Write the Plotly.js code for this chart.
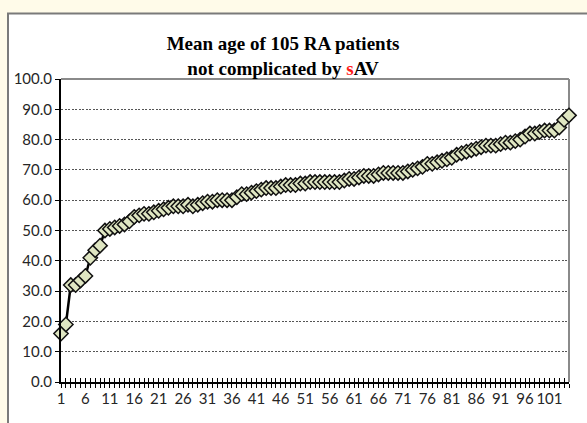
<!DOCTYPE html>
<html>
<head>
<meta charset="utf-8">
<script src="https://cdn.plot.ly/plotly-3.0.1.min.js"></script>
<style>
html,body{margin:0;padding:0;background:#fffbe9;}
#chart{width:587px;height:423px;}
</style>
</head>
<body>
<div id="chart"></div>
<script>
// Patient index (1..105)
const patientIndex = Array.from({length: 105}, (_, i) => i + 1);
// Ages, sorted ascending
const ages = [
  16, 19, 32, 32, 33.5, 35, 41, 43.5, 45, 50,
  50.5, 51, 51.5, 52, 53, 54.5, 55, 55.5, 55.5, 56,
  56.5, 57, 57.5, 58, 58, 58, 58.5, 58, 58.5, 59,
  59.5, 59.5, 60, 60, 60, 60, 61, 62, 62, 62.5,
  63, 63.5, 64, 64, 64, 64.5, 65, 65, 65, 65.5,
  65.5, 66, 66, 66, 66, 66, 66, 66, 66.5, 67,
  67, 67.5, 68, 68, 68, 68.5, 69, 69, 69, 69,
  69, 69.5, 70, 70.5, 71, 72, 72, 72.5, 73, 73.5,
  74, 75, 75.5, 76, 76.5, 77, 77.5, 78, 78, 78,
  78.5, 79, 79, 79.5, 80, 81, 82, 82, 82.5, 83,
  83, 83, 84, 86.5, 88
];
const xTickVals = [1, 6, 11, 16, 21, 26, 31, 36, 41, 46, 51, 56, 61, 66, 71, 76, 81, 86, 91, 96, 101];
const yTickVals = [0, 10, 20, 30, 40, 50, 60, 70, 80, 90, 100];

const trace = {
  x: patientIndex,
  y: ages,
  type: 'scatter',
  mode: 'lines+markers',
  line: {color: '#000000', width: 2.5},
  marker: {symbol: 'diamond', size: 11, color: '#dfe6c2', line: {color: '#111111', width: 1.5}},
  cliponaxis: false,
  hoverinfo: 'skip'
};

const tickFont = {family: 'Lato, "Noto Sans", sans-serif', size: 15, color: '#262626'};

const layout = {
  width: 587, height: 423,
  margin: {l: 61, r: 18, t: 79, b: 41},
  paper_bgcolor: '#fffbe9',
  plot_bgcolor: '#ffffff',
  showlegend: false,
  title: {
    text: 'Mean age of 105 RA patients<br>not complicated by <span style="color:#ff1a1a">s</span>AV',
    font: {family: '"Liberation Serif", "Times New Roman", serif', size: 19, color: '#000', weight: 'bold'},
    x: 283 / 587, xanchor: 'center', xref: 'container',
    y: 1 - 50 / 423, yanchor: 'top', yref: 'container'
  },
  xaxis: {
    range: [1, 105],
    tickmode: 'array', tickvals: xTickVals, ticktext: xTickVals.map(String),
    ticks: 'outside', ticklen: 4, tickwidth: 1, tickcolor: '#000',
    minor: {dtick: 1, tick0: 1, ticks: 'outside', ticklen: 4, tickwidth: 1, tickcolor: '#000', showgrid: false},
    showline: true, linecolor: '#000', linewidth: 2,
    showgrid: false, zeroline: false,
    tickfont: tickFont, ticklabelstandoff: -2,
    fixedrange: true
  },
  xaxis2: {
    overlaying: 'x', anchor: 'y', side: 'bottom',
    range: [1, 105], dtick: 1, tick0: 1,
    ticks: 'inside', ticklen: 4, tickwidth: 1, tickcolor: '#000',
    showticklabels: false, showgrid: false, zeroline: false, showline: false,
    fixedrange: true
  },
  yaxis: {
    range: [0, 100],
    tickmode: 'array', tickvals: yTickVals, ticktext: yTickVals.map(v => v.toFixed(1)),
    ticks: 'outside', ticklen: 4, tickwidth: 1, tickcolor: '#000',
    showline: true, linecolor: '#000', linewidth: 2,
    showgrid: true, gridcolor: '#555', gridwidth: 1, griddash: '2px,1.5px',
    zeroline: false,
    tickfont: tickFont,
    fixedrange: true
  },
  shapes: [
    {type: 'rect', xref: 'paper', yref: 'paper', layer: 'below',
     x0: (8 - 61) / 508, x1: (600 - 61) / 508, y0: (382 - 440) / 303, y1: (382 - 13.5) / 303,
     fillcolor: '#ffffff', line: {color: '#7a7a7a', width: 2}},
    {type: 'line', xref: 'paper', yref: 'paper', layer: 'above',
     x0: 0, x1: 1, y0: 1, y1: 1, line: {color: '#8a8a8a', width: 2}},
    {type: 'line', xref: 'paper', yref: 'paper', layer: 'below',
     x0: 1, x1: 1, y0: 0, y1: 1, line: {color: '#8a8a8a', width: 2}}
  ]
};

const dummy = {x: [1], y: [0], xaxis: 'x2', yaxis: 'y', type: 'scatter', mode: 'markers',
  marker: {opacity: 0}, hoverinfo: 'skip', showlegend: false};

Plotly.newPlot('chart', [trace, dummy], layout, {displayModeBar: false, staticPlot: true});
</script>
</body>
</html>
